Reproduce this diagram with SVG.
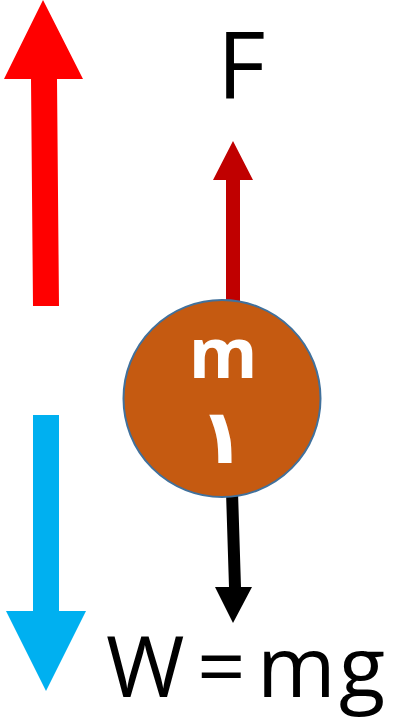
<svg xmlns="http://www.w3.org/2000/svg" width="396" height="721" viewBox="0 0 396 721">
<style>
.lbl{font-family:"Open Sans","DejaVu Sans",sans-serif;fill:#000}
.in{font-family:"Open Sans","DejaVu Sans",sans-serif;fill:#fff;font-weight:bold;text-anchor:middle}
</style>
<rect width="396" height="721" fill="#fff"/>
<g id="connectors">
<polygon id="big-up" points="43,0 83,79 57,79 59,306 33,306 31,79 4,79" fill="#FF0000"/>
<polygon id="big-down" points="33,415 59,415 59,611 86,611 46,691 6,611 33,611" fill="#00B0F0"/>
<polygon id="force-up" points="233,141 253,180 240,180 240,307 226,307 226,180 213,180" fill="#C00000"/>
<polygon id="weight-down" points="226,492 238,492 241,587 252,587 233,623 215,587 229,587" fill="#000"/>
</g>
<g id="mass">
<circle cx="222" cy="398.5" r="98.5" fill="#C55A11" stroke="#41719C" stroke-width="2"/>
<text class="in" x="223" y="378" font-size="70">m</text>
<text class="in" x="222" y="463" font-size="76" style="font-family:'DejaVu Sans',sans-serif">١</text>
</g>
<g id="label-F"><text class="lbl" x="217" y="99" font-size="94">F</text></g>
<g id="label-W"><text class="lbl" x="106 197 257 339" y="697" font-size="85">W=mg</text></g>
</svg>
